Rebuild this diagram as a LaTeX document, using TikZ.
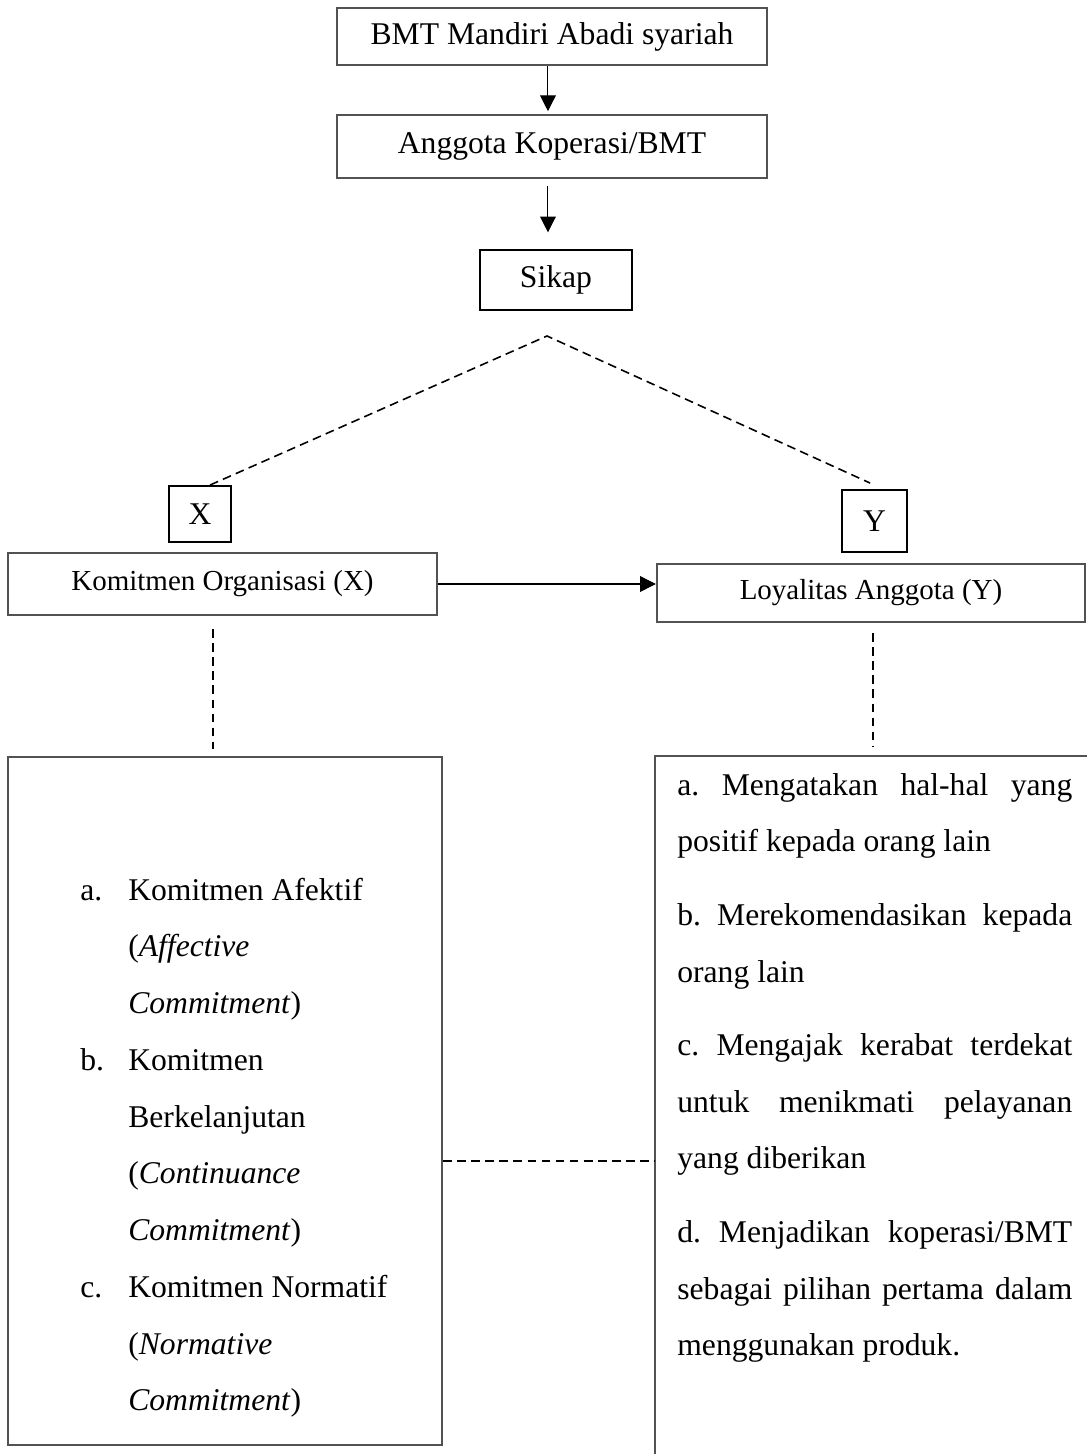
\documentclass[tikz,border=0pt]{standalone}
\usepackage{fontspec}
\setmainfont{Liberation Serif}
\usetikzlibrary{arrows.meta}
\definecolor{boxgray}{gray}{0.32}
\frenchspacing

\begin{document}
\begin{tikzpicture}[x=0.02cm,y=-0.02cm,
    arr/.style={-{Triangle[length=9pt,width=9pt]},line width=0.6pt},
    dashln/.style={dash pattern=on 5pt off 3pt,line width=0.9pt}]

        \useasboundingbox (0,0) rectangle (1087,1454);

        \begin{scope}[every node/.style={draw=boxgray,line width=1.4pt,inner sep=0pt,
            font=\fontsize{18}{21.6}\selectfont}]
          \node[minimum width=8.6cm,minimum height=1.14cm]  (bmt)     at (552,36.5) {BMT Mandiri Abadi syariah};
          \node[minimum width=8.6cm,minimum height=1.26cm]  (anggota) at (552,146.5) {Anggota Koperasi/BMT};
          \node[minimum width=8.58cm,minimum height=1.24cm,font=\fontsize{16.5}{20}\selectfont] (komit) at (222.5,584) {Komitmen Organisasi (X)};
          \node[minimum width=8.56cm,minimum height=1.16cm,font=\fontsize{16.5}{20}\selectfont] (loyal) at (871,593) {Loyalitas Anggota (Y)};
          \node[minimum width=8.68cm,minimum height=13.76cm] (left)   at (225,1101) {};
        \end{scope}

        \begin{scope}[every node/.style={draw=black,line width=1.1pt,inner sep=0pt,
            font=\fontsize{18}{21.6}\selectfont}]
          \node[minimum width=3.04cm,minimum height=1.2cm]  (sikap) at (556,280) {Sikap};
          \node[minimum width=1.24cm,minimum height=1.12cm] (x)     at (200,514) {X};
          \node[minimum width=1.3cm,minimum height=1.24cm]  (y)     at (874.5,521) {Y};
        \end{scope}

        \coordinate (apex) at (547,336);
        \coordinate (rtop) at (655,756);

        % right list frame, open to the right and below
        \draw[boxgray,line width=1.4pt] (1095,756) -- (rtop) -- (655,1460);

        \begin{scope}[every node/.style={anchor=north west,inner sep=0pt}]
          \node[font=\fontsize{18}{32.3}\selectfont] (xlist) at (80,860)
            {\begin{tabular}{@{}p{0.96cm}@{}l@{}}
              a. & Komitmen Afektif\\
                 & (\textit{Affective}\\
                 & \textit{Commitment})\\
              b. & Komitmen\\
                 & Berkelanjutan\\
                 & (\textit{Continuance}\\
                 & \textit{Commitment})\\
              c. & Komitmen Normatif\\
                 & (\textit{Normative}\\
                 & \textit{Commitment})
            \end{tabular}};
          \node[text width=7.9cm,align=justify,font=\fontsize{18}{32.3}\selectfont] (ylist) at (677,755)
            {\hyphenpenalty=10000\strut a. Mengatakan hal-hal yang\linebreak
             positif kepada orang lain\par\vspace{9.5pt}
             b. Merekomendasikan kepada\linebreak
             orang lain\par\vspace{9.5pt}
             c. Mengajak kerabat terdekat\linebreak
             untuk menikmati pelayanan\linebreak
             yang diberikan\par\vspace{9.5pt}
             d. Menjadikan koperasi/BMT\linebreak
             sebagai pilihan pertama dalam\linebreak
             menggunakan produk.};
        \end{scope}

        \draw[arr] ([xshift=-2.3pt]bmt.south) -- ([xshift=-2.3pt,yshift=1.5pt]anggota.north);
        \draw[arr] ([xshift=-2.3pt,yshift=-4pt]anggota.south) -- ([xshift=-2.3pt,yshift=9.5pt]anggota.south |- sikap.north);
        \draw[arr] (komit.east) -- (komit.east -| loyal.west);

        \draw[dashln] ([xshift=5.7pt]x.north) -- (apex) -- ([xshift=-2.5pt,yshift=3.4pt]y.north);
        \draw[dashln] ([xshift=-5.4pt,yshift=-7.4pt]komit.south) -- ([xshift=-5.4pt,yshift=4pt]komit.south |- left.north);
        \draw[dashln] ([xshift=1.1pt,yshift=-5.7pt]loyal.south) -- ([xshift=1.1pt,yshift=5pt]loyal.south |- rtop);
        \draw[dashln] ([yshift=-34pt]left.east) -- ([yshift=-34pt]left.east -| rtop);

      \end{tikzpicture}
\end{document}
